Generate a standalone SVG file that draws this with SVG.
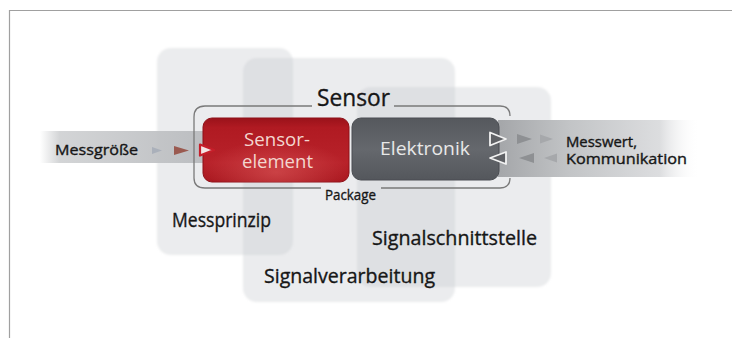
<svg xmlns="http://www.w3.org/2000/svg" width="732" height="338" viewBox="0 0 732 338">
<style>
.t{font-family:"Open Sans","Liberation Sans",sans-serif;fill:#161616;stroke:#161616;stroke-width:0.35}
.w{font-family:"Open Sans","Liberation Sans",sans-serif}
.panel{fill:#c4c7cc;fill-opacity:0.34;filter:url(#soft)}
.br{fill:none;stroke:#7a7a7a;stroke-width:1.3}
</style>
<defs>
<filter id="soft" x="-5%" y="-5%" width="110%" height="110%"><feGaussianBlur stdDeviation="1.2"/></filter>
<linearGradient id="red" x1="0" y1="0" x2="0" y2="1">
<stop offset="0" stop-color="#9a121a"/>
<stop offset="0.15" stop-color="#b01a22"/>
<stop offset="0.7" stop-color="#b8222a"/>
<stop offset="1" stop-color="#a8161e"/>
</linearGradient>
<radialGradient id="redHi" cx="0.5" cy="0.85" r="0.5">
<stop offset="0" stop-color="#e06060" stop-opacity="0.55"/>
<stop offset="1" stop-color="#e06060" stop-opacity="0"/>
</radialGradient>
<linearGradient id="gray" x1="0" y1="0" x2="0" y2="1">
<stop offset="0" stop-color="#55585d"/>
<stop offset="0.5" stop-color="#65686d"/>
<stop offset="1" stop-color="#54575c"/>
</linearGradient>
<linearGradient id="bandL" x1="0" y1="0" x2="1" y2="0">
<stop offset="0" stop-color="#c6c8ca" stop-opacity="0"/>
<stop offset="0.12" stop-color="#c8cacc" stop-opacity="0.8"/>
<stop offset="1" stop-color="#bcbec1"/>
</linearGradient>
<linearGradient id="bandR" x1="0" y1="0" x2="1" y2="0">
<stop offset="0" stop-color="#a4a6a9"/>
<stop offset="0.35" stop-color="#c2c4c6"/>
<stop offset="0.8" stop-color="#dcdddf"/>
<stop offset="1" stop-color="#ffffff" stop-opacity="0"/>
</linearGradient>
</defs>
<rect width="732" height="338" fill="#ffffff"/>
<path d="M9.5 338 V10.5 H732" fill="none" stroke="#a0a0a0" stroke-width="1.2"/>

<g id="panel-messprinzip">
<rect class="panel" x="157" y="48" width="136" height="207" rx="14"/>
</g>
<g id="panel-signalverarbeitung">
<rect class="panel" x="243" y="58" width="212" height="244" rx="14"/>
</g>
<g id="panel-signalschnittstelle">
<rect class="panel" x="357" y="87" width="194" height="200" rx="14"/>
</g>
<g id="panel-labels">
<text class="t" x="172" y="227" font-size="20" textLength="99" lengthAdjust="spacingAndGlyphs">Messprinzip</text>
<text class="t" x="372" y="245" font-size="20" textLength="165" lengthAdjust="spacingAndGlyphs">Signalschnittstelle</text>
<text class="t" x="264" y="283" font-size="20" textLength="171" lengthAdjust="spacingAndGlyphs">Signalverarbeitung</text>
</g>

<g id="bands">
<rect x="40" y="131" width="164" height="32" fill="url(#bandL)"/>
<path d="M498 120 H700 V177 H498 Z" fill="url(#bandR)"/>
</g>

<g id="sensor">
<path class="br" d="M312 106 H205 Q194 106 194 117 V178 Q194 188 205 188 H321"/>
<path class="br" d="M394 106 H500 Q510 106 510 116"/>
<path class="br" d="M381 188 H500 Q510 188 510 178"/>
<text class="t" x="317" y="106" font-size="23" textLength="73" lengthAdjust="spacingAndGlyphs">Sensor</text>
<text class="t" x="325" y="200" font-size="15" textLength="51" lengthAdjust="spacingAndGlyphs">Package</text>
</g>

<g id="sensorelement">
<rect x="203" y="118" width="146" height="64" rx="9" fill="url(#red)" stroke="#8e1118" stroke-width="1"/>
<rect x="203" y="118" width="146" height="64" rx="9" fill="url(#redHi)"/>
<text class="w" x="244" y="145.5" font-size="18" fill="#f3d6cf" textLength="66" lengthAdjust="spacingAndGlyphs">Sensor-</text>
<text class="w" x="242" y="168" font-size="18" fill="#f3d6cf" textLength="71" lengthAdjust="spacingAndGlyphs">element</text>
</g>

<g id="elektronik">
<rect x="352" y="118" width="147" height="62" rx="9" fill="url(#gray)" stroke="#4a4d52" stroke-width="1"/>
<text class="w" x="380" y="155" font-size="19" fill="#e8e8e8" textLength="90" lengthAdjust="spacingAndGlyphs">Elektronik</text>
</g>

<g id="connectors">
<polygon points="152,147 162,150.5 152,154" fill="#aab0ba"/>
<polygon points="174,146 189,150.5 174,155" fill="#9a5a50"/>
<polygon points="200,144.5 214,150 200,155.5" fill="#f2e4e4" stroke="#c61e2a" stroke-width="2.2" stroke-linejoin="round"/>
<polygon points="490,132.5 506,139 490,145.5" fill="#5f6165" stroke="#f2f2f2" stroke-width="1.8" stroke-linejoin="round"/>
<polygon points="517,134 532,139 517,144" fill="#8e9093"/>
<polygon points="540,134.5 553,139 540,143.5" fill="#a6a8ab"/>
<polygon points="506,152 490,158 506,164" fill="#5f6165" stroke="#f2f2f2" stroke-width="1.8" stroke-linejoin="round"/>
<polygon points="534,153 519,158 534,163" fill="#8e9093"/>
<polygon points="557,153.5 544,158 557,162.5" fill="#a6a8ab"/>
<text class="t" x="55" y="155" font-size="15" textLength="83" lengthAdjust="spacingAndGlyphs">Messgröße</text>
<text class="t" x="566" y="146.5" font-size="14" textLength="71" lengthAdjust="spacingAndGlyphs">Messwert,</text>
<text class="t" x="566" y="164" font-size="14" textLength="121" lengthAdjust="spacingAndGlyphs">Kommunikation</text>
</g>
</svg>
